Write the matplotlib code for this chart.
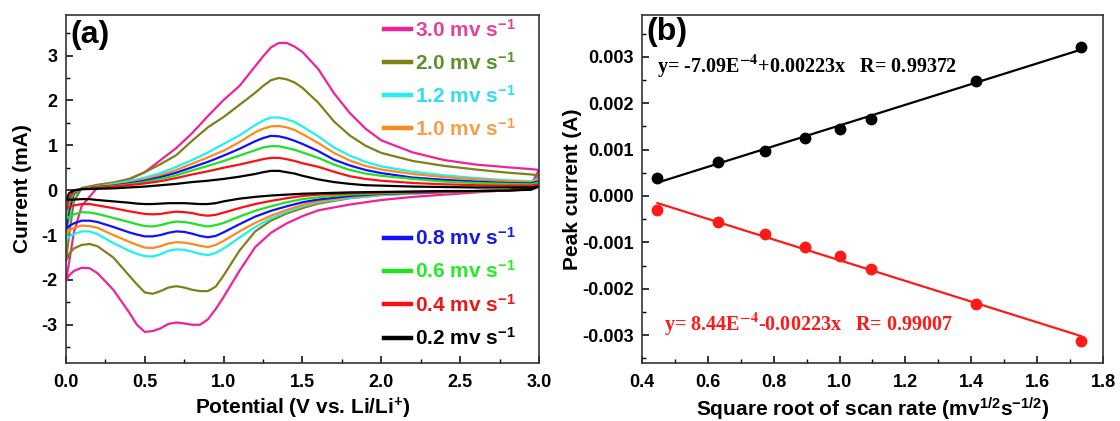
import numpy as np
import matplotlib
matplotlib.use('Agg')
import matplotlib.pyplot as plt
from matplotlib.ticker import MultipleLocator, FormatStrFormatter

plt.rcParams['font.family'] = ['Liberation Sans', 'DejaVu Sans']
plt.rcParams['font.weight'] = 'bold'
plt.rcParams['axes.labelweight'] = 'bold'
plt.rcParams['mathtext.fontset'] = 'custom'
plt.rcParams['mathtext.bf'] = 'Liberation Sans:bold'
plt.rcParams['mathtext.rm'] = 'Liberation Sans:bold'
plt.rcParams['mathtext.it'] = 'Liberation Sans:bold'
plt.rcParams['mathtext.default'] = 'bf'

# ---------------- (a) CV curves ----------------
# anodic (upper) branch potentials, V
E_up = [0.0, 0.02, 0.05, 0.1, 0.2, 0.3, 0.4, 0.5, 0.6, 0.7, 0.8, 0.9, 1.0, 1.1, 1.2, 1.25,
        1.3, 1.35, 1.4, 1.45, 1.5, 1.6, 1.7, 1.8, 1.9, 2.0, 2.2, 2.4, 2.6, 2.8, 2.95, 3.0]
# cathodic (lower) branch potentials, V
E_dn = [3.0, 2.95, 2.8, 2.6, 2.4, 2.2, 2.0, 1.8, 1.6, 1.5, 1.4, 1.3, 1.2, 1.1, 1.0, 0.95,
        0.9, 0.85, 0.8, 0.75, 0.7, 0.65, 0.6, 0.55, 0.5, 0.45, 0.4, 0.3, 0.2, 0.15, 0.1,
        0.05, 0.02, 0.0]

i_up_30 = [-2.02, -1.6, -0.95, -0.35, 0.06, 0.16, 0.24, 0.40, 0.67, 0.94, 1.27, 1.65, 2.01, 2.32,
           2.76, 2.98, 3.18, 3.28, 3.28, 3.2, 3.08, 2.7, 2.16, 1.72, 1.37, 1.11, 0.84, 0.67,
           0.57, 0.51, 0.47, 0.45]
i_dn_30 = [0.45, 0.12, 0.0, -0.05, -0.1, -0.15, -0.22, -0.32, -0.45, -0.58, -0.74, -0.95, -1.27,
           -1.8, -2.38, -2.65, -2.88, -3.0, -3.0, -2.97, -2.95, -2.98, -3.08, -3.14, -3.16, -3.0,
           -2.72, -2.22, -1.85, -1.74, -1.73, -1.8, -1.9, -2.02]

i_up_20 = [-1.57, -1.0, -0.25, 0.05, 0.12, 0.17, 0.25, 0.40, 0.58, 0.78, 1.1, 1.4, 1.63, 1.9,
           2.17, 2.32, 2.45, 2.5, 2.47, 2.4, 2.28, 1.95, 1.53, 1.22, 0.99, 0.83, 0.65, 0.54,
           0.46, 0.39, 0.35, 0.33]
i_dn_20 = [0.33, 0.08, 0.0, -0.02, -0.04, -0.07, -0.11, -0.18, -0.3, -0.4, -0.52, -0.68, -0.92,
           -1.35, -1.9, -2.15, -2.25, -2.25, -2.22, -2.17, -2.14, -2.17, -2.25, -2.31, -2.28,
           -2.1, -1.9, -1.5, -1.25, -1.2, -1.22, -1.3, -1.42, -1.57]

i_up_12 = [-1.1, -0.6, -0.1, 0.03, 0.08, 0.14, 0.2, 0.28, 0.38, 0.52, 0.67, 0.84, 1.03, 1.22,
           1.45, 1.55, 1.62, 1.62, 1.58, 1.52, 1.42, 1.2, 0.95, 0.77, 0.63, 0.53, 0.41, 0.33,
           0.27, 0.22, 0.2, 0.25]
i_dn_12 = [0.25, 0.05, -0.01, -0.03, -0.05, -0.08, -0.11, -0.17, -0.27, -0.36, -0.48, -0.63,
           -0.82, -1.06, -1.3, -1.4, -1.45, -1.42, -1.37, -1.33, -1.32, -1.35, -1.43, -1.48,
           -1.47, -1.42, -1.35, -1.18, -0.98, -0.92, -0.92, -0.98, -1.04, -1.1]

i_up_10 = [-0.95, -0.5, -0.08, 0.03, 0.08, 0.12, 0.17, 0.24, 0.33, 0.45, 0.59, 0.73, 0.88, 1.07,
           1.29, 1.37, 1.42, 1.43, 1.40, 1.34, 1.25, 1.05, 0.83, 0.66, 0.54, 0.46, 0.36, 0.29,
           0.24, 0.2, 0.18, 0.22]
i_dn_10 = [0.22, 0.04, -0.01, -0.03, -0.05, -0.07, -0.1, -0.15, -0.25, -0.33, -0.44, -0.57,
           -0.73, -0.92, -1.13, -1.22, -1.27, -1.24, -1.2, -1.17, -1.16, -1.19, -1.25, -1.29,
           -1.28, -1.22, -1.15, -1.0, -0.84, -0.8, -0.79, -0.84, -0.9, -0.95]

i_up_08 = [-0.87, -0.45, -0.07, 0.03, 0.07, 0.1, 0.15, 0.21, 0.29, 0.39, 0.51, 0.63, 0.77, 0.92,
           1.09, 1.16, 1.21, 1.2, 1.16, 1.1, 1.03, 0.87, 0.68, 0.55, 0.45, 0.38, 0.28, 0.23,
           0.19, 0.16, 0.15, 0.2]
i_dn_08 = [0.2, 0.04, -0.01, -0.02, -0.04, -0.06, -0.08, -0.13, -0.21, -0.27, -0.36, -0.46,
           -0.59, -0.76, -0.94, -1.02, -1.05, -1.02, -0.97, -0.93, -0.92, -0.95, -1.0, -1.03,
           -1.03, -0.99, -0.94, -0.82, -0.71, -0.68, -0.68, -0.74, -0.8, -0.87]

i_up_06 = [-0.64, -0.3, -0.05, 0.03, 0.06, 0.09, 0.13, 0.18, 0.25, 0.33, 0.44, 0.54, 0.65, 0.77,
           0.89, 0.95, 0.98, 0.98, 0.94, 0.9, 0.84, 0.72, 0.57, 0.45, 0.37, 0.32, 0.25, 0.19,
           0.16, 0.14, 0.13, 0.17]
i_dn_06 = [0.17, 0.03, -0.01, -0.02, -0.03, -0.05, -0.07, -0.1, -0.16, -0.2, -0.27, -0.36,
           -0.46, -0.59, -0.73, -0.78, -0.81, -0.78, -0.74, -0.71, -0.7, -0.73, -0.78, -0.81,
           -0.8, -0.76, -0.71, -0.62, -0.53, -0.5, -0.49, -0.54, -0.59, -0.64]

i_up_04 = [-0.42, -0.18, -0.02, 0.03, 0.05, 0.08, 0.11, 0.15, 0.2, 0.27, 0.35, 0.42, 0.5, 0.57,
           0.65, 0.69, 0.72, 0.72, 0.69, 0.65, 0.6, 0.52, 0.41, 0.31, 0.25, 0.21, 0.16, 0.13,
           0.11, 0.1, 0.1, 0.13]
i_dn_04 = [0.13, 0.02, -0.01, -0.02, -0.03, -0.04, -0.05, -0.07, -0.1, -0.13, -0.18, -0.24,
           -0.31, -0.4, -0.5, -0.55, -0.57, -0.55, -0.51, -0.49, -0.48, -0.5, -0.53, -0.54,
           -0.53, -0.5, -0.47, -0.4, -0.34, -0.31, -0.31, -0.34, -0.38, -0.42]

i_up_02 = [-0.22, -0.07, 0.0, 0.02, 0.03, 0.04, 0.06, 0.08, 0.11, 0.14, 0.18, 0.21, 0.25, 0.3,
           0.36, 0.4, 0.43, 0.43, 0.4, 0.37, 0.32, 0.24, 0.18, 0.14, 0.11, 0.1, 0.08, 0.07,
           0.06, 0.06, 0.06, 0.08]
i_dn_02 = [0.08, 0.01, -0.01, -0.02, -0.02, -0.03, -0.04, -0.05, -0.07, -0.08, -0.1, -0.12,
           -0.15, -0.19, -0.25, -0.29, -0.31, -0.31, -0.3, -0.29, -0.29, -0.29, -0.3, -0.31,
           -0.31, -0.3, -0.28, -0.25, -0.22, -0.2, -0.2, -0.21, -0.21, -0.22]

rates = ['3.0', '2.0', '1.2', '1.0', '0.8', '0.6', '0.4', '0.2']
ups = [i_up_30, i_up_20, i_up_12, i_up_10, i_up_08, i_up_06, i_up_04, i_up_02]
dns = [i_dn_30, i_dn_20, i_dn_12, i_dn_10, i_dn_08, i_dn_06, i_dn_04, i_dn_02]
line_colors = ['#f0229a', '#808018', '#22f0f0', '#ff8a1a', '#1010ff', '#22e022', '#ff1010', '#000000']
text_colors = ['#e8409a', '#5e8f2a', '#33dcee', '#f5a048', '#1a1ae6', '#22ee22', '#f01414', '#000000']

# ---------------- (b) peak current vs sqrt(scan rate) ----------------
sqrt_rate = [0.447, 0.632, 0.775, 0.894, 1.0, 1.095, 1.414, 1.732]
ip_anodic = [0.00038, 0.00073, 0.00097, 0.00124, 0.00145, 0.00166, 0.00247, 0.00322]
ip_cathodic = [-0.00030, -0.00057, -0.00082, -0.00110, -0.00129, -0.00157, -0.00232, -0.00312]
fit_anodic = (-7.09e-4, 0.00223)
fit_cathodic = (8.44e-4, -0.00223)

fig = plt.figure(figsize=(11.2, 4.21), dpi=100)
ax1 = fig.add_axes([0.0589, 0.138, 0.4223, 0.826])
ax2 = fig.add_axes([0.5732, 0.138, 0.4116, 0.826])

lines = []
for r, up, dn, c in zip(rates, ups, dns, line_colors):
    ln, = ax1.plot(E_up + E_dn, up + dn, color=c, lw=1.6, label=r + r' mv s$^{-1}$')
    lines.append(ln)

ax1.set_xlim(0, 3.0)
ax1.set_ylim(-3.85, 3.9)
ax1.xaxis.set_major_locator(MultipleLocator(0.5))
ax1.xaxis.set_minor_locator(MultipleLocator(0.25))
ax1.yaxis.set_major_locator(MultipleLocator(1))
ax1.yaxis.set_minor_locator(MultipleLocator(0.5))
ax1.xaxis.set_major_formatter(FormatStrFormatter('%.1f'))
ax1.yaxis.set_major_formatter(FormatStrFormatter('%d'))
ax1.set_xlabel(r'Potential (V vs. Li/Li$^{+}$)', fontsize=15)
ax1.set_ylabel('Current (mA)', fontsize=15)
ax1.xaxis.set_label_coords(0.5, -0.095)
ax1.yaxis.set_label_coords(-0.072, 0.5)
ax1.text(0.01, 0.985, '(a)', transform=ax1.transAxes, fontsize=23, va='top', ha='left')

leg1 = ax1.legend(handles=lines[:4], loc='upper right', bbox_to_anchor=(0.95, 0.99),
                  frameon=False, fontsize=15, handlelength=1.3, handletextpad=0.15,
                  labelspacing=0.53, borderpad=0, borderaxespad=0, labelcolor=text_colors[:4])
ax1.add_artist(leg1)
leg2 = ax1.legend(handles=lines[4:], loc='lower right', bbox_to_anchor=(0.95, 0.04),
                  frameon=False, fontsize=15, handlelength=1.3, handletextpad=0.15,
                  labelspacing=0.55, borderpad=0, borderaxespad=0, labelcolor=text_colors[4:])
for lg in (leg1, leg2):
    for h in lg.legend_handles:
        h.set_linewidth(3.2)

# panel b
xs = np.array([min(sqrt_rate), max(sqrt_rate)])
ax2.plot(xs, fit_anodic[0] + fit_anodic[1] * xs, color='black', lw=1.6)
ax2.plot(xs, fit_cathodic[0] + fit_cathodic[1] * xs, color='#ff1a1a', lw=1.6)
ax2.plot(sqrt_rate, ip_anodic, 'o', color='black', ms=7.5)
ax2.plot(sqrt_rate, ip_cathodic, 'o', color='#ff1a1a', ms=7.5)

ax2.set_xlim(0.4, 1.8)
ax2.set_ylim(-0.0036, 0.0039)
ax2.xaxis.set_major_locator(MultipleLocator(0.2))
ax2.xaxis.set_minor_locator(MultipleLocator(0.1))
ax2.yaxis.set_major_locator(MultipleLocator(0.001))
ax2.yaxis.set_minor_locator(MultipleLocator(0.0005))
ax2.xaxis.set_major_formatter(FormatStrFormatter('%.1f'))
ax2.yaxis.set_major_formatter(FormatStrFormatter('%.3f'))
ax2.set_xlabel(r'Square root of scan rate (mv$^{1/2}$s$^{-1/2}$)', fontsize=15)
ax2.set_ylabel('Peak current (A)', fontsize=15)
ax2.xaxis.set_label_coords(0.5, -0.095)
ax2.yaxis.set_label_coords(-0.13, 0.5)
ax2.text(0.01, 0.995, '(b)', transform=ax2.transAxes, fontsize=23, va='top', ha='left')

ax2.text(0.445, 0.0028, r'y= -7.09E$^{\mathbf{-4}}$+0.00223x   R= 0.99372',
         family=['Liberation Serif', 'DejaVu Serif'], fontsize=14.5, weight='bold',
         math_fontfamily='stix', va='center', color='black')
ax2.text(0.468, -0.00277, r'y= 8.44E$^{\mathbf{-4}}$-0.00223x   R= 0.99007',
         family=['Liberation Serif', 'DejaVu Serif'], fontsize=14.5, weight='bold',
         math_fontfamily='stix', va='center', color='#ff1a1a')

for ax in (ax1, ax2):
    for s in ax.spines.values():
        s.set_linewidth(1.2)
        s.set_color('#333333')
    ax.tick_params(which='both', direction='in', top=False, right=False, labelsize=13)
    ax.tick_params(which='major', length=5, width=1.1, pad=6)
    ax.tick_params(axis='x', which='major', pad=8)
    ax.tick_params(which='minor', length=3, width=1.0)
    for lab in ax.get_xticklabels() + ax.get_yticklabels():
        lab.set_fontweight('bold')

fig.savefig('out.png', dpi=100)
